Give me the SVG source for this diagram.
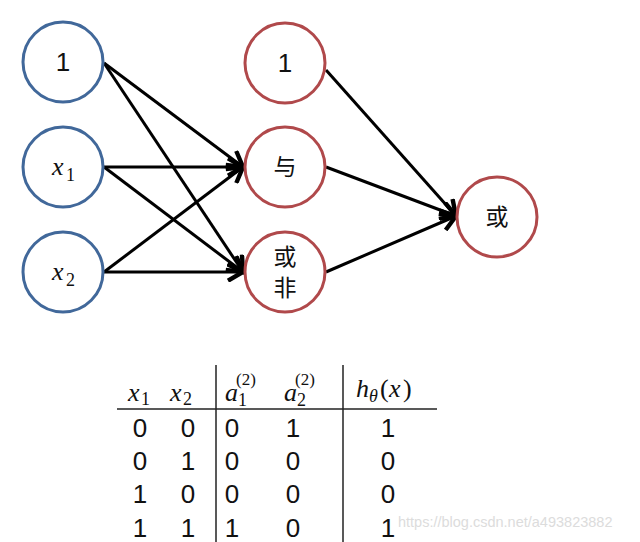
<svg xmlns="http://www.w3.org/2000/svg" width="640" height="542" viewBox="0 0 640 542">
<style>
.in{fill:#fff;stroke:#41689a;stroke-width:3}
.hid{fill:#fff;stroke:#b0494b;stroke-width:3}
.lbl{font-family:"Liberation Sans",Arial,sans-serif;font-size:26px;fill:#111;text-anchor:middle}
.cjk{font-family:"Noto Sans CJK SC","Noto Sans",sans-serif;font-size:23px;fill:#111;text-anchor:middle}
.mi{font-family:"Liberation Serif","DejaVu Serif",serif;font-style:italic;fill:#111}
.mr{font-family:"Liberation Serif","DejaVu Serif",serif;fill:#111}
.num{font-family:"Liberation Sans",Arial,sans-serif;font-size:26px;fill:#111;text-anchor:middle}
.edge{stroke:#000;stroke-width:3;fill:none;marker-end:url(#ah)}
.rule{stroke:#222;stroke-width:1.5}
</style>
<defs>
<marker id="ah" markerUnits="userSpaceOnUse" markerWidth="20" markerHeight="20" refX="14" refY="8" orient="auto" viewBox="0 0 16 16">
<path d="M2,1 L14,8 L2,15" fill="none" stroke="#000" stroke-width="3.5" stroke-linejoin="miter"/>
</marker>
</defs>
<g id="edges">
<line class="edge" x1="104" y1="63" x2="243" y2="167"/>
<line class="edge" x1="104" y1="63" x2="243" y2="272"/>
<line class="edge" x1="104" y1="167" x2="243" y2="167"/>
<line class="edge" x1="104" y1="167" x2="243" y2="272"/>
<line class="edge" x1="104" y1="272" x2="243" y2="167"/>
<line class="edge" x1="104" y1="272" x2="243" y2="272"/>
<line class="edge" x1="326" y1="70" x2="456" y2="216"/>
<line class="edge" x1="326" y1="167" x2="456" y2="216"/>
<line class="edge" x1="326" y1="272" x2="456" y2="216"/>
</g>
<g id="in1"><circle class="in" cx="63" cy="62" r="40"/><text class="lbl" x="63" y="71">1</text></g>
<g id="inx1"><circle class="in" cx="63" cy="167" r="40"/><text x="52" y="175" class="mi" font-size="26">x</text><text x="66" y="181" class="mr" font-size="18">1</text></g>
<g id="inx2"><circle class="in" cx="63" cy="272" r="40"/><text x="52" y="280" class="mi" font-size="26">x</text><text x="66" y="286" class="mr" font-size="18">2</text></g>
<g id="h1"><circle class="hid" cx="285" cy="63" r="40"/><text class="lbl" x="285" y="72">1</text></g>
<g id="hand"><circle class="hid" cx="285" cy="167" r="40"/><text class="cjk" x="285" y="175">与</text></g>
<g id="hnor"><circle class="hid" cx="285" cy="272" r="40"/><text class="cjk" x="285" y="265" font-size="21">或</text><text class="cjk" x="285" y="296" font-size="21">非</text></g>
<g id="out"><circle class="hid" cx="497" cy="217" r="40"/><text class="cjk" x="497" y="225">或</text></g>
<g id="table">
<line class="rule" x1="117" y1="409" x2="437" y2="409"/>
<line class="rule" x1="216" y1="365" x2="216" y2="542"/>
<line class="rule" x1="343" y1="365" x2="343" y2="542"/>
<text x="128" y="401" class="mi" font-size="26">x</text><text x="141" y="405" class="mr" font-size="18">1</text>
<text x="170" y="401" class="mi" font-size="26">x</text><text x="183" y="405" class="mr" font-size="18">2</text>
<text x="225" y="401" class="mi" font-size="26">a</text><text x="238" y="406" class="mr" font-size="18">1</text><text x="236" y="385" class="mr" font-size="17">(2)</text>
<text x="284" y="401" class="mi" font-size="26">a</text><text x="297" y="406" class="mr" font-size="18">2</text><text x="295" y="385" class="mr" font-size="17">(2)</text>
<text x="356" y="397" class="mi" font-size="26">h</text><text x="369" y="402" class="mi" font-size="18">θ</text><text x="380" y="397" class="mr" font-size="26">(</text><text x="389" y="397" class="mi" font-size="26">x</text><text x="403" y="397" class="mr" font-size="26">)</text>
<g class="num">
<text x="140" y="437">0</text><text x="188" y="437">0</text><text x="232" y="437">0</text><text x="293" y="437">1</text><text x="388" y="437">1</text>
<text x="140" y="470">0</text><text x="188" y="470">1</text><text x="232" y="470">0</text><text x="293" y="470">0</text><text x="388" y="470">0</text>
<text x="140" y="503">1</text><text x="188" y="503">0</text><text x="232" y="503">0</text><text x="293" y="503">0</text><text x="388" y="503">0</text>
<text x="140" y="537">1</text><text x="188" y="537">1</text><text x="232" y="537">1</text><text x="293" y="537">0</text><text x="388" y="537">1</text>
</g>
</g>
<text x="398" y="527" font-family="Liberation Sans,Arial,sans-serif" font-size="14.5" fill="#dcdcdc">https://blog.csdn.net/a493823882</text>
</svg>
